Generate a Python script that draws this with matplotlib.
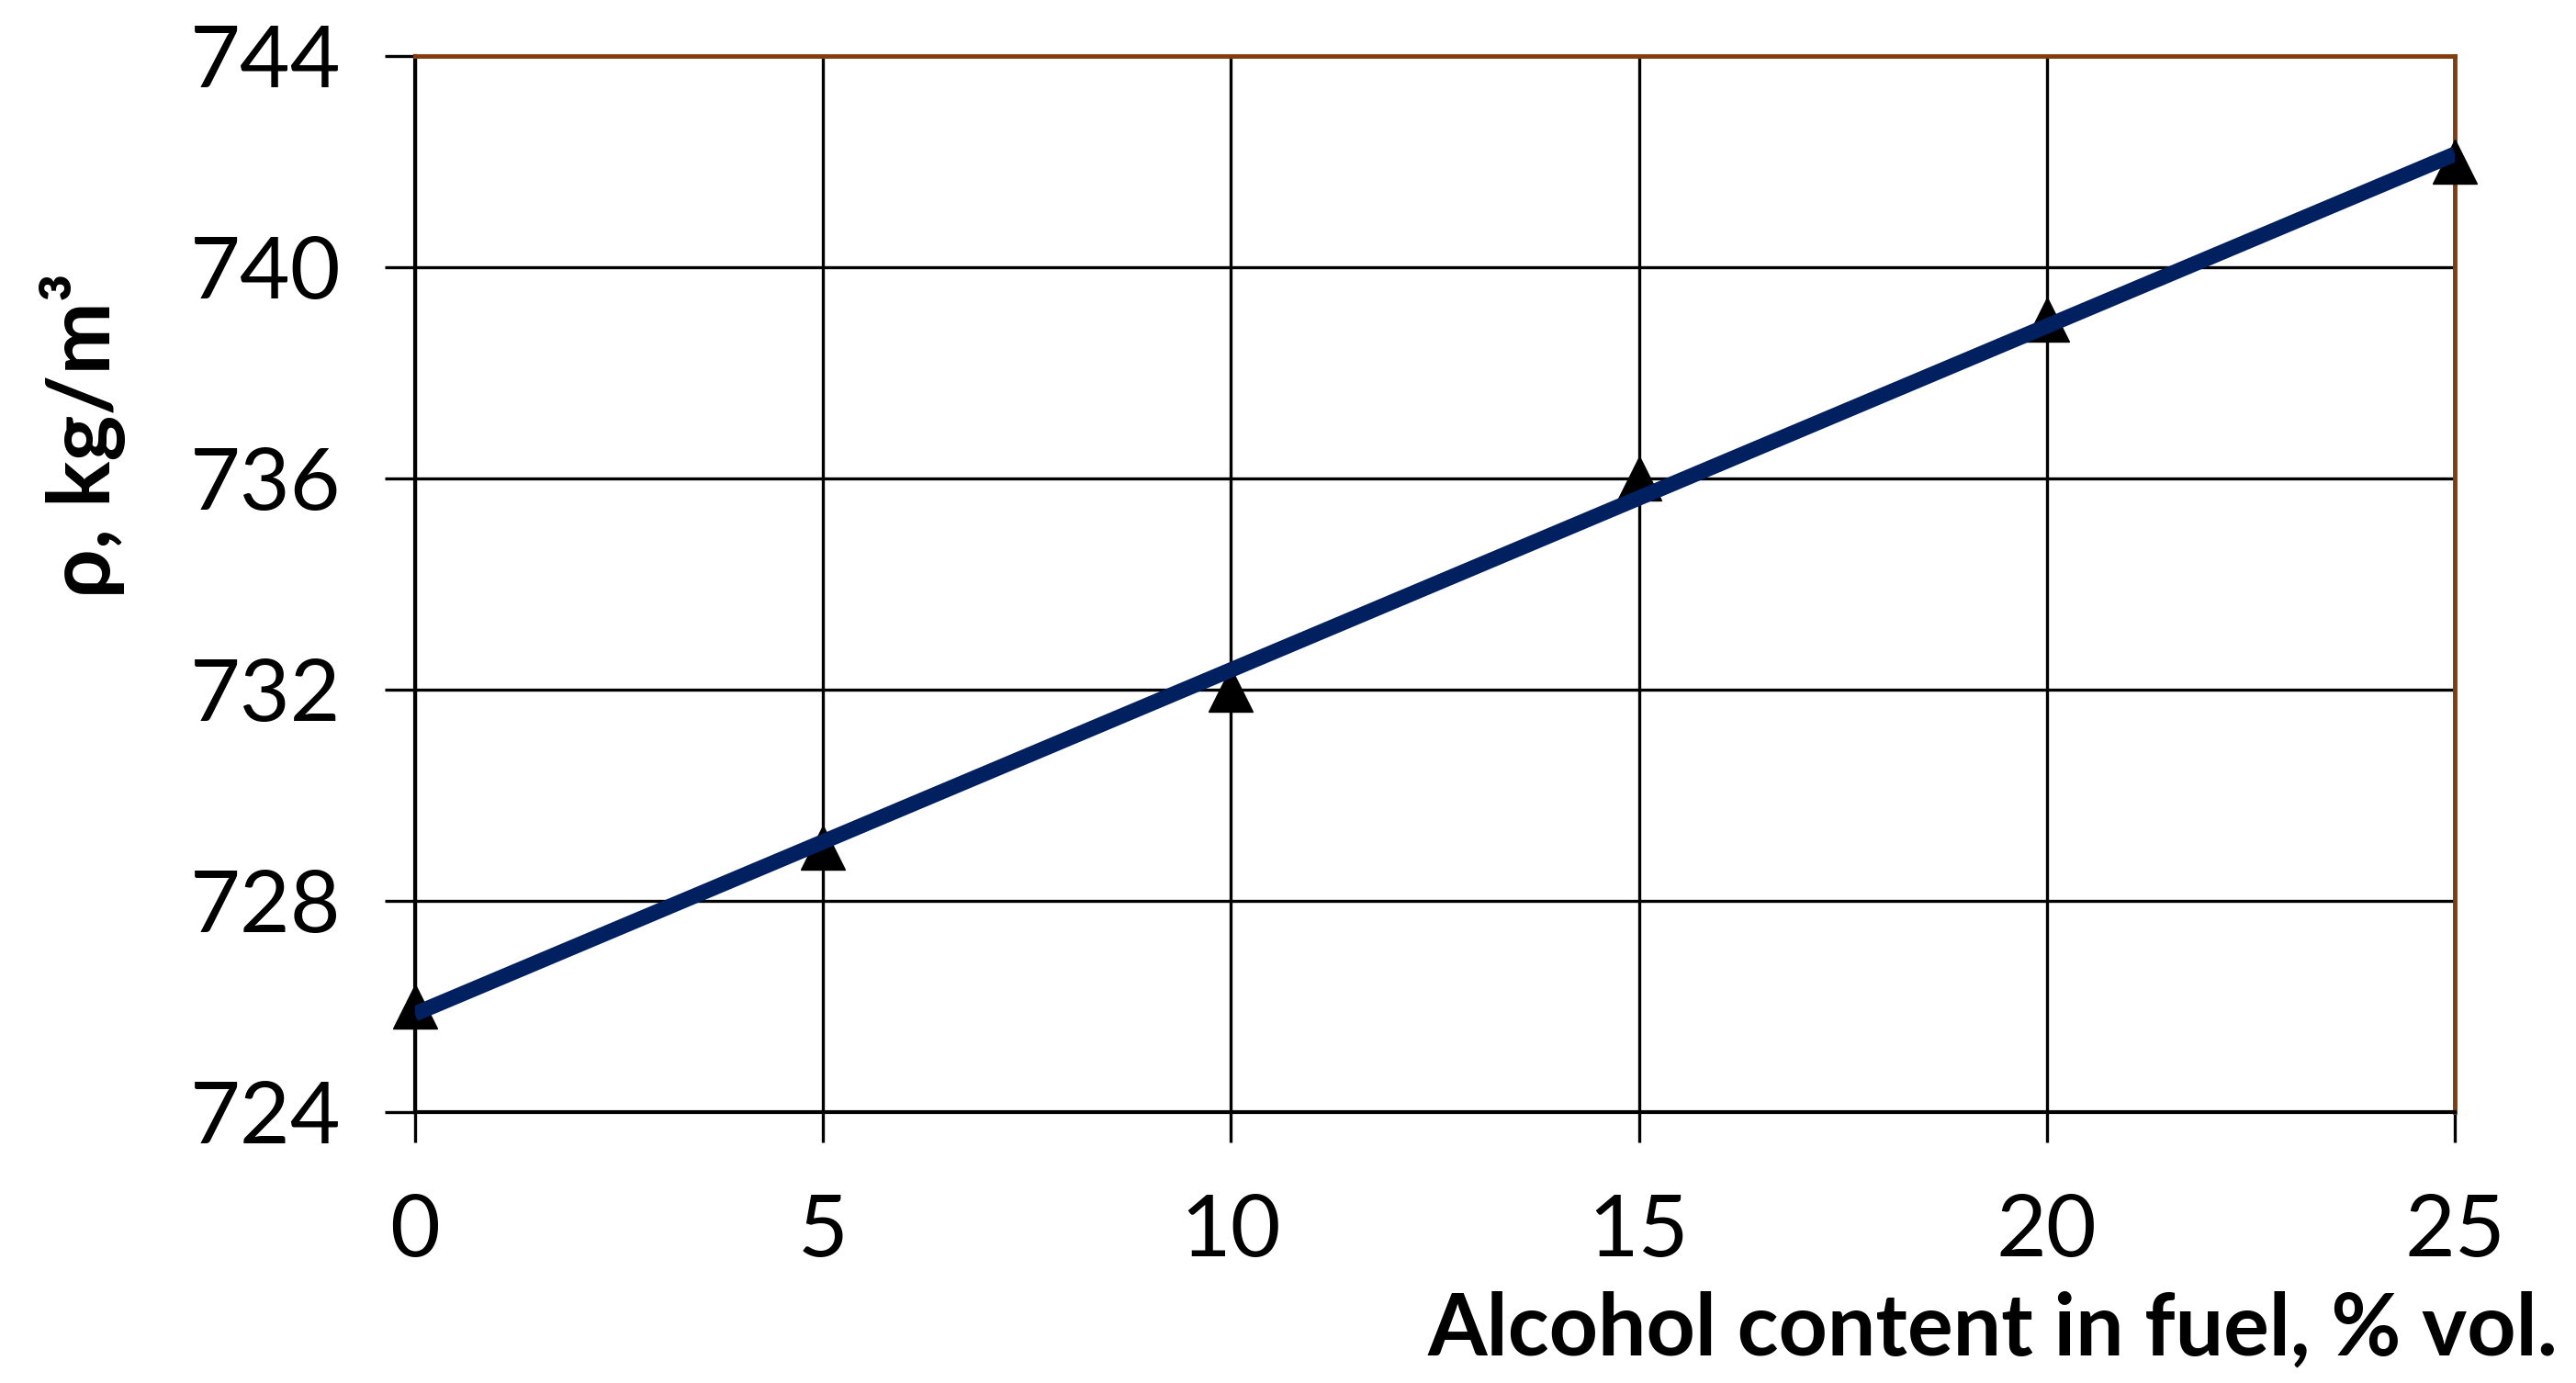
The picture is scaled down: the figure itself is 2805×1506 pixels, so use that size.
# density of gasoline-alcohol blends vs alcohol content
import numpy as np
import matplotlib.pyplot as plt

alcohol = [0, 5, 10, 15, 20, 25]
density = [726, 729, 732, 736, 739, 742]
x_ticks = [0, 5, 10, 15, 20, 25]
y_ticks = [724, 728, 732, 736, 740, 744]

plt.rcParams['font.family'] = ['Lato', 'DejaVu Sans']

fig = plt.figure(figsize=(28.05, 15.06), dpi=100)
ax = fig.add_axes([0.161, 0.196, 0.792, 0.7635])

# linear trend through the measured points
k, b = np.polyfit(alcohol, density, 1)
xs = np.array([alcohol[0], alcohol[-1]])

ax.plot(alcohol, density, linestyle='none', marker='^', markersize=34,
        color='black', clip_on=False, zorder=3)
ax.plot(xs, k * xs + b, color='#002060', linewidth=12,
        solid_capstyle='butt', zorder=4)

ax.set_xlim(0, 25)
ax.set_ylim(724, 744)
ax.set_xticks(x_ticks)
ax.set_yticks(y_ticks)
ax.grid(True, color='black', linewidth=2.4)
ax.set_axisbelow(True)

for s in ['top', 'right']:
    ax.spines[s].set_color('#843C0C')
    ax.spines[s].set_linewidth(3.5)
for s in ['left', 'bottom']:
    ax.spines[s].set_color('black')
    ax.spines[s].set_linewidth(3)

ax.tick_params(axis='both', direction='out', length=24, width=2.4,
               labelsize=68, colors='black')
ax.tick_params(axis='y', pad=34)
ax.tick_params(axis='x', pad=40)

fig.text(0.993, 0.038, 'Alcohol content in fuel, % vol.', ha='right',
         va='center', fontsize=67, fontweight='bold')
fig.text(0.032, 0.685, 'ρ, kg/m³', ha='center', va='center', rotation=90,
         fontsize=68, fontweight='bold')

fig.savefig('out.png', dpi=100, facecolor='white')
